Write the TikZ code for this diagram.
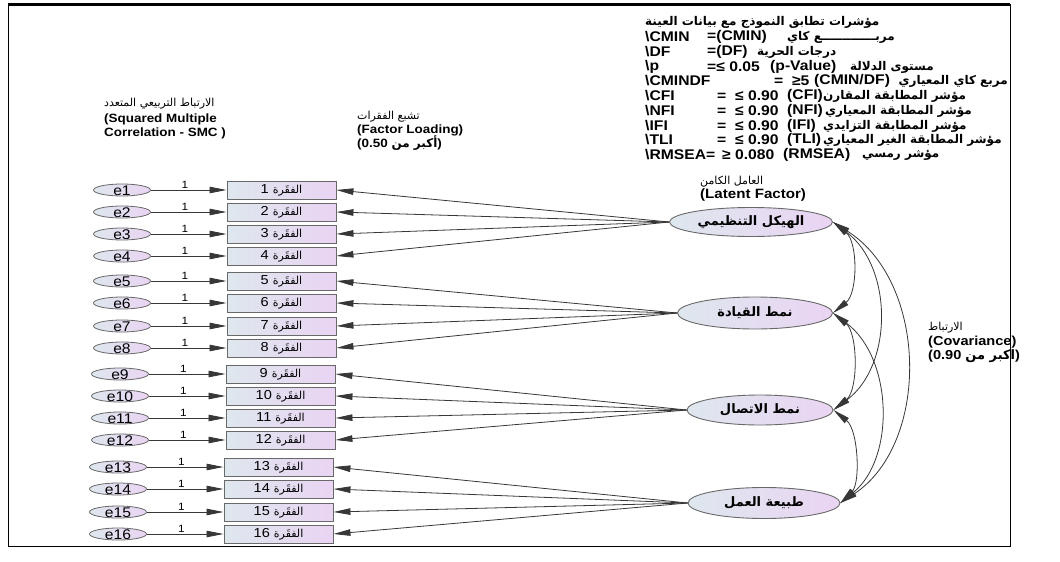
\documentclass[tikz,border=0pt]{standalone}
\usepackage{fontspec}
\setmainfont{Liberation Sans}[FakeStretch=1.12]
\newfontfamily\arfont[Script=Arabic]{DejaVu Sans}
\TeXXeTstate=1
\usetikzlibrary{arrows.meta,shapes.geometric}
\definecolor{gL}{RGB}{222,231,238}
\definecolor{gR}{RGB}{234,212,243}
\definecolor{edgec}{RGB}{55,55,55}
\definecolor{bordc}{RGB}{105,105,105}
\newcommand\artxt[1]{{\arfont\beginR #1\endR}}
\newcommand\fsz[1]{\fontsize{#1}{#1}\selectfont}
\tikzset{
  errnode/.style={ellipse, draw=bordc, line width=0.8pt, left color=gL, right color=gR,
    minimum width=57pt, minimum height=12pt, inner sep=0pt, font=\fsz{14}},
  itemnode/.style={rectangle, draw=bordc, line width=0.9pt, left color=gL, right color=gR,
    minimum width=109pt, minimum height=18pt, inner sep=0pt, font=\fsz{13}},
  latnode/.style={ellipse, draw=bordc, line width=0.9pt, left color=gL, right color=gR,
    inner sep=0pt, font=\fsz{13}\arfont\bfseries},
  conn/.style={draw=edgec, line width=0.8pt, ->},
  cov/.style={draw=edgec, line width=0.8pt, <->},
  one/.style={font=\fsz{10.5}, inner sep=0pt},
  hdr/.style={anchor=west, inner sep=0pt, font=\fsz{14}\bfseries},
  arh/.style={anchor=west, inner sep=0pt, font=\fsz{12}\arfont\bfseries},
  lbl/.style={anchor=west, inner sep=0pt, font=\fsz{12}\bfseries},
  arl/.style={anchor=west, inner sep=0pt, font=\fsz{11}\arfont},
}
\begin{document}
\begin{tikzpicture}[x=1pt,y=-1pt,>={Triangle[length=17pt,width=6.5pt]}]
\useasboundingbox (0,0) rectangle (1060,562);
% frame
\draw[line width=1pt] (8,4) rectangle (1010,546);
\draw[line width=3pt] (8,4) -- (1010,4);

% indicators and errors
\foreach \i/\y/\ex/\bx in {1/190/122/281.5, 2/212/122/281.5, 3/234/122/281.5, 4/256/122/281.5,
  5/281/122/281.5, 6/303/122/281.5, 7/326/122/281.5, 8/348/122/281.5,
  9/374/120/280.5, 10/396/120/280.5, 11/418/120/280.5, 12/440/120/280.5,
  13/467/118/278.5, 14/489/118/278.5, 15/512/118/278.5, 16/534/118/278.5}{
  \node[errnode] (e\i) at (\ex,\y) {\smash{\raisebox{-5pt}{e\i}}};
  \node[itemnode] (i\i) at (\bx,\y) {\i\ {\fsz{11}\artxt{الفقَرة}}};
  \draw[conn] (e\i) -- node[one,pos=0.45,above=1.5pt]{1} (i\i);
}

% latent factors
\node[latnode, minimum width=163pt, minimum height=29pt] (F1) at (751,222) {\beginR الهيكل التنظيمي\endR};
\node[latnode, minimum width=155pt, minimum height=32pt] (F2) at (755,313) {\beginR نمط القيادة\endR};
\node[latnode, minimum width=146pt, minimum height=30pt] (F3) at (760,410) {\beginR نمط الاتصال\endR};
\node[latnode, minimum width=152pt, minimum height=31pt] (F4) at (764,503) {\beginR طبيعة العمل\endR};

% loadings
\foreach \i in {1,2,3,4} \draw[conn] (F1.west) -- (i\i.east);
\foreach \i in {5,6,7,8} \draw[conn] (F2.west) -- (i\i.east);
\foreach \i in {9,10,11,12} \draw[conn] (F3.west) -- (i\i.east);
\foreach \i in {13,14,15,16} \draw[conn] (F4.west) -- (i\i.east);

% covariances
\draw[cov] (F1.east) .. controls +(25,20) and +(25,-20) .. (F2.east);
\draw[cov] (F2.east) .. controls +(25,20) and +(25,-20) .. (F3.east);
\draw[cov] (F3.east) .. controls +(25,20) and +(20,-20) .. (F4.east);
\draw[cov] (F1.east) .. controls +(60,45) and +(60,-45) .. (F3.east);
\draw[cov] (F2.east) .. controls +(60,45) and +(55,-45) .. (F4.east);
\draw[cov] (F1.east) .. controls +(95,60) and +(90,-60) .. (F4.east);

% fit indices block
\node[arh] (t0) at (645,22) {\beginR مؤشرات تطابق النموذج مع بيانات العينة\endR};
\node[hdr] (c1) at (645,37) {\textbackslash CMIN};
\node[hdr] (v1) at (707,37) {=(CMIN)};
\node[arh] (a1) at (787,37) {\beginR مربـــــــــــــع كاي\endR};
\node[hdr] (c2) at (645,52) {\textbackslash DF};
\node[hdr] (v2) at (707,52) {=(DF)};
\node[arh] (a2) at (757,52) {\beginR درجات الحرية\endR};
\node[hdr] (c3) at (645,67) {\textbackslash p};
\node[hdr] (v3) at (707,67) {=≤ 0.05};
\node[hdr] (p3) at (770,67) {(p-Value)};
\node[arh] (a3) at (850,67) {\beginR مستوى الدلالة\endR};
\node[hdr] (c4) at (645,81) {\textbackslash CMINDF};
\node[hdr] (v4) at (774,81) {=\ \ ≥5};
\node[hdr] (p4) at (814,81) {(CMIN/DF)};
\node[arh,anchor=east] (a4) at (1008,81) {\beginR مربع كاي المعياري\endR};
\node[hdr] (c5) at (645,96) {\textbackslash CFI};
\node[hdr] (v5) at (717,96) {=\ \ ≤ 0.90};
\node[hdr] (p5) at (787,96) {(CFI)};
\node[arh] (a5) at (823,96) {\beginR مؤشر المطابقة المقارن\endR};
\node[hdr] (c6) at (645,111) {\textbackslash NFI};
\node[hdr] (v6) at (717,111) {=\ \ ≤ 0.90};
\node[hdr] (p6) at (787,111) {(NFI)};
\node[arh] (a6) at (825,111) {\beginR مؤشر المطابقة المعياري\endR};
\node[hdr] (c7) at (645,126) {\textbackslash IFI};
\node[hdr] (v7) at (717,126) {=\ \ ≤ 0.90};
\node[hdr] (p7) at (787,126) {(IFI)};
\node[arh] (a7) at (823,126) {\beginR مؤشر المطابقة التزايدي\endR};
\node[hdr] (c8) at (645,140) {\textbackslash TLI};
\node[hdr] (v8) at (717,140) {=\ \ ≤ 0.90};
\node[hdr] (p8) at (787,140) {(TLI)};
\node[arh] (a8) at (823,140) {\beginR مؤشر المطابقة الغير المعياري\endR};
\node[hdr] (c9) at (645,155) {\textbackslash RMSEA=};
\node[hdr] (v9) at (722,155) {≥ 0.080};
\node[hdr] (p9) at (783,155) {(RMSEA)};
\node[arh] (a9) at (862,155) {\beginR مؤشر رمسي\endR};

% other labels
\node[arl] (s1) at (104,104) {\beginR الارتباط التربيعي المتعدد\endR};
\node[lbl] (s2) at (104,119) {(Squared Multiple};
\node[lbl] (s3) at (104,133) {Correlation - SMC )};
\node[arl] (l1) at (357,117) {\beginR تشبع الفقرات\endR};
\node[lbl] (l2) at (357,130) {(Factor Loading)};
\node[lbl] (l3) at (357,143) {(0.50 \artxt{أكبر من})};
\node[arl] (k1) at (700,182) {\beginR العامل الكامن\endR};
\node[lbl,font=\fsz{13.5}\bfseries] (k2) at (700,195) {(Latent Factor)};
\node[arl] (v1l) at (928,328) {\beginR الارتباط\endR};
\node[lbl,font=\fsz{13}\bfseries] (v2l) at (928,342) {(Covariance)};
\node[lbl,font=\fsz{13}\bfseries] (v3l) at (928,356) {(0.90 \artxt{اكبر من})};
\end{tikzpicture}
\end{document}
